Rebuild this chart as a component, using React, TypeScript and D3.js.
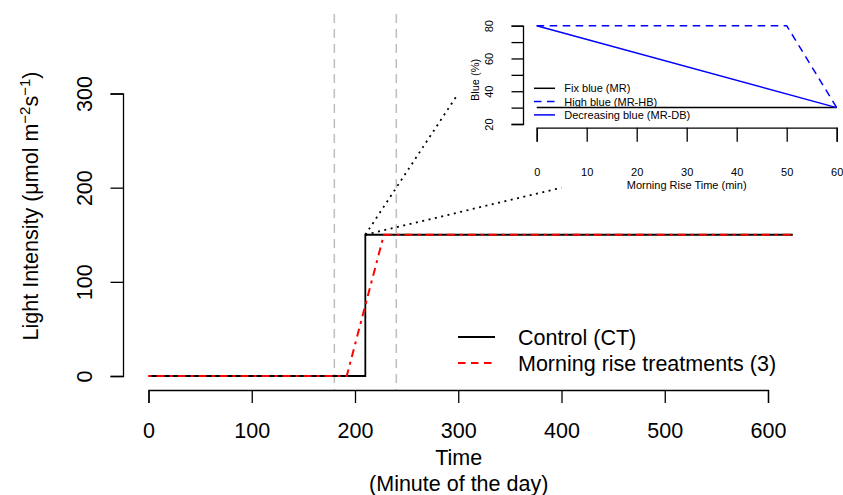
import { useEffect, useRef } from "react";
import * as d3 from "d3";

// main panel: light intensity over the day
const controlTime = [0, 210, 210, 624];
const controlLight = [0, 0, 150, 150];
const riseTime = [0, 192, 228, 624];
const riseLight = [0, 0, 150, 150];
const guideTimes = [180, 240];
const zoomFrom = [210, 150];
const zoomTo = [
  [300, 300],
  [400, 200],
];
const timeTicks = [0, 100, 200, 300, 400, 500, 600];
const lightTicks = [0, 100, 200, 300];
const legendLabels = ["Control (CT)", "Morning rise treatments (3)"];

// inset: blue share during the morning rise
const fixBlueTime = [0, 60];
const fixBlueValue = [30, 30];
const highBlueTime = [0, 50, 60];
const highBlueValue = [80, 80, 30];
const decBlueTime = [0, 60];
const decBlueValue = [80, 30];
const riseTicks = [0, 10, 20, 30, 40, 50, 60];
const blueTicks = [20, 30, 40, 50, 60, 70, 80];
const blueLabels = [20, 40, 60, 80];
const insetLabels = ["Fix blue (MR)", "High blue (MR-HB)", "Decreasing blue (MR-DB)"];

const FONT = "'Liberation Sans', Arial, Helvetica, sans-serif";

const App = () => {
  const ref = useRef<SVGSVGElement>(null);

  useEffect(() => {
    const dims = { width: 843, height: 495, fs: 21.5, ifs: 11 };
    const svg = d3.select(ref.current);
    svg.selectAll("*").remove();
    svg.attr("width", dims.width).attr("height", dims.height).style("font-family", FONT);

    const x = d3.scaleLinear().domain([0, 600]).range([148.5, 768]);
    const y = d3.scaleLinear().domain([0, 300]).range([376, 93.5]);
    const line = (xs: number[], ys: number[]) =>
      d3
        .line<number>()
        .x((d) => x(xs[d]))
        .y((d) => y(ys[d]))(xs.map((_, i) => i));

    // guide lines at the start / end of the rise window
    svg
      .selectAll(".guide")
      .data(guideTimes)
      .enter()
      .append("line")
      .attr("x1", (d) => x(d))
      .attr("x2", (d) => x(d))
      .attr("y1", 14)
      .attr("y2", 390)
      .attr("stroke", "#bebebe")
      .attr("stroke-width", 1.5)
      .attr("stroke-dasharray", "9,6");

    // axes
    const axisX = d3.axisBottom(x).tickValues(timeTicks).tickSizeOuter(0).tickSize(13).tickPadding(20);
    const gx = svg.append("g").attr("transform", "translate(0,390)").call(axisX);
    const axisY = d3.axisLeft(y).tickValues(lightTicks).tickSizeOuter(0).tickSize(12.5);
    const gy = svg.append("g").attr("transform", "translate(123,0)").call(axisY);
    [gx, gy].forEach((g) => {
      g.selectAll("path,line").attr("stroke", "#000").attr("stroke-width", 1.3);
      g.selectAll("text").attr("fill", "#000").style("font-size", dims.fs + "px").style("font-family", FONT);
    });
    gy.selectAll("text")
      .attr("transform", "rotate(-90)")
      .attr("x", 0)
      .attr("y", -31.5)
      .attr("dy", 0)
      .attr("text-anchor", "middle");

    svg
      .append("text")
      .attr("x", 458.7)
      .attr("y", 465)
      .attr("text-anchor", "middle")
      .style("font-size", dims.fs + "px")
      .text("Time");
    svg
      .append("text")
      .attr("x", 458.7)
      .attr("y", 491)
      .attr("text-anchor", "middle")
      .style("font-size", dims.fs + "px")
      .text("(Minute of the day)");

    const yt = svg
      .append("text")
      .attr("transform", "translate(38,206) rotate(-90)")
      .attr("text-anchor", "middle")
      .style("font-size", dims.fs + "px");
    yt.append("tspan").text("Light Intensity (μmol m");
    yt.append("tspan").attr("dy", -8).style("font-size", "15px").text("−2");
    yt.append("tspan").attr("dy", 8).text("s");
    yt.append("tspan").attr("dy", -8).style("font-size", "15px").text("−1");
    yt.append("tspan").attr("dy", 8).text(")");

    // zoom lines from the step to the inset
    svg
      .selectAll(".zoom")
      .data(zoomTo)
      .enter()
      .append("line")
      .attr("x1", x(zoomFrom[0]))
      .attr("y1", y(zoomFrom[1]))
      .attr("x2", (d) => x(d[0]))
      .attr("y2", (d) => y(d[1]))
      .attr("stroke", "#000")
      .attr("stroke-width", 1.8)
      .attr("stroke-dasharray", "2,4.5");

    // series
    svg
      .append("path")
      .attr("d", line(controlTime, controlLight))
      .attr("fill", "none")
      .attr("stroke", "#000")
      .attr("stroke-width", 1.8);
    svg
      .append("path")
      .attr("d", line(riseTime, riseLight))
      .attr("fill", "none")
      .attr("stroke", "#ff0000")
      .attr("stroke-width", 2)
      .attr("stroke-dasharray", "3,5,8,5");

    // legend
    const leg = svg.append("g");
    legendLabels.forEach((label, i) => {
      const ly = 337 + i * 26;
      leg
        .append("line")
        .attr("x1", 458)
        .attr("x2", 495)
        .attr("y1", ly)
        .attr("y2", ly)
        .attr("stroke", i === 0 ? "#000" : "#ff0000")
        .attr("stroke-width", i === 0 ? 1.8 : 2)
        .attr("stroke-dasharray", i === 0 ? null : "7.5,5.5");
      leg
        .append("text")
        .attr("x", 518)
        .attr("y", ly + 8)
        .style("font-size", dims.fs + "px")
        .text(label);
    });

    // inset
    const ix = d3.scaleLinear().domain([0, 60]).range([536.7, 836.7]);
    const iy = d3.scaleLinear().domain([20, 80]).range([124, 25.7]);
    const iline = (xs: number[], ys: number[]) =>
      d3
        .line<number>()
        .x((d) => ix(xs[d]))
        .y((d) => iy(ys[d]))(xs.map((_, i) => i));

    const iax = d3.axisBottom(ix).tickValues(riseTicks).tickSizeOuter(0).tickSize(14).tickPadding(27);
    const gix = svg.append("g").attr("transform", "translate(0,127.7)").call(iax);
    const iay = d3
      .axisLeft(iy)
      .tickValues(blueTicks)
      .tickSizeOuter(0)
      .tickSize(11.5)
      .tickFormat((d) => (blueLabels.includes(+d) ? String(d) : ""));
    const giy = svg.append("g").attr("transform", "translate(523,0)").call(iay);
    [gix, giy].forEach((g) => {
      g.selectAll("path,line").attr("stroke", "#000").attr("stroke-width", 1.3);
      g.selectAll("text").attr("fill", "#000").style("font-size", dims.ifs + "px").style("font-family", FONT);
    });
    giy
      .selectAll("text")
      .attr("transform", "rotate(-90)")
      .attr("x", 0)
      .attr("y", -30)
      .attr("dy", 0)
      .attr("text-anchor", "middle");

    svg
      .append("text")
      .attr("x", 686.7)
      .attr("y", 188.5)
      .attr("text-anchor", "middle")
      .style("font-size", dims.ifs + "px")
      .text("Morning Rise Time (min)");
    svg
      .append("text")
      .attr("transform", "translate(479,80) rotate(-90)")
      .attr("text-anchor", "middle")
      .style("font-size", dims.ifs + "px")
      .text("Blue (%)");

    const insetSeries = [
      { xs: fixBlueTime, ys: fixBlueValue, color: "#000", dash: null },
      { xs: highBlueTime, ys: highBlueValue, color: "#0000ff", dash: "7.5,5.5" },
      { xs: decBlueTime, ys: decBlueValue, color: "#0000ff", dash: null },
    ];
    insetSeries.forEach((s, i) => {
      svg
        .append("path")
        .attr("d", iline(s.xs, s.ys))
        .attr("fill", "none")
        .attr("stroke", s.color)
        .attr("stroke-width", 1.5)
        .attr("stroke-dasharray", s.dash);
      const ly = 88.3 + i * 13.3;
      svg
        .append("line")
        .attr("x1", 534)
        .attr("x2", 555)
        .attr("y1", ly)
        .attr("y2", ly)
        .attr("stroke", s.color)
        .attr("stroke-width", 1.5)
        .attr("stroke-dasharray", s.dash);
      svg
        .append("text")
        .attr("x", 564.3)
        .attr("y", ly + 4)
        .style("font-size", dims.ifs + "px")
        .text(insetLabels[i]);
    });
  }, []);

  return <svg ref={ref} style={{ position: "absolute", left: 0, top: 0 }}></svg>;
};

export default App;
